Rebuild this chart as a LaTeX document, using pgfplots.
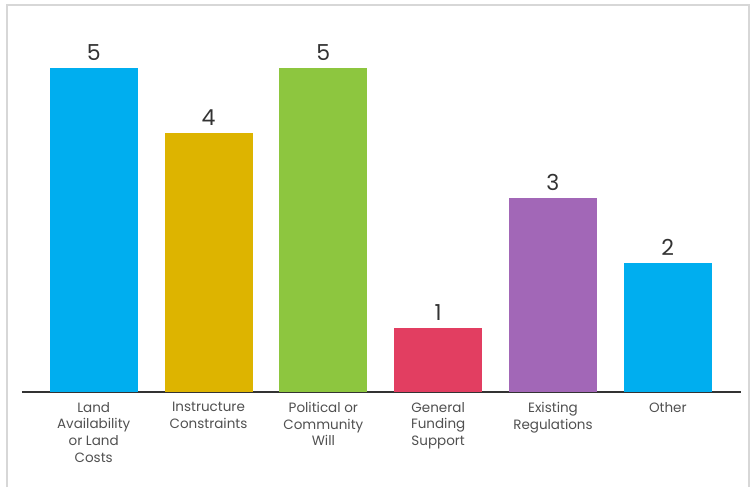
\documentclass[border=0pt]{standalone}
\usepackage{fontspec}
\setmainfont{Poppins}
\usepackage{pgfplots}
\pgfplotsset{compat=1.18}
\definecolor{cblue}{RGB}{0,174,239}
\definecolor{cyellow}{RGB}{221,180,0}
\definecolor{cgreen}{RGB}{141,198,63}
\definecolor{cred}{RGB}{226,62,97}
\definecolor{cpurple}{RGB}{162,103,183}
\definecolor{labtext}{RGB}{80,80,80}
\definecolor{numtext}{RGB}{51,51,51}
\definecolor{framegray}{RGB}{215,215,215}
\begin{document}
\begin{tikzpicture}[x=1pt,y=1pt]
\useasboundingbox (0,0) rectangle (754,487);
\draw[line width=2pt, color=framegray] (7,0) -- (7,482) -- (749,482) -- (749,0);
\begin{axis}[
  at={(19,146)}, anchor=south west,
  scale only axis, width=719pt, height=356.4pt,
  xmin=-0.626, xmax=5.636, ymin=0, ymax=5.5,
  axis x line=bottom, axis y line=none,
  x axis line style={-, line width=2pt, color=numtext},
  ybar, bar width=88pt, bar shift=0pt,
  xtick={0,1,2,3,4,5},
  xticklabels={{Land\\Availability\\or Land\\Costs},{Instructure\\Constraints},{Political or\\Community\\Will},{General\\Funding\\Support},{Existing\\Regulations},{Other}},
  xticklabel style={align=center, font=\fontsize{13.5}{16.7}\selectfont, text=labtext, yshift=-2pt},
  xtick style={draw=none},
  /pgf/number format/assume math mode=true,
  nodes near coords,
  every node near coord/.append style={font=\fontsize{22}{26}\selectfont, text=numtext, yshift=4pt},
  clip=false,
]
\addplot[fill=cblue, draw=none] coordinates {(0,5)};
\addplot[fill=cyellow, draw=none] coordinates {(1,4)};
\addplot[fill=cgreen, draw=none] coordinates {(2,5)};
\addplot[fill=cred, draw=none] coordinates {(3,1)};
\addplot[fill=cpurple, draw=none] coordinates {(4,3)};
\addplot[fill=cblue, draw=none] coordinates {(5,2)};
\end{axis}
\end{tikzpicture}
\end{document}
